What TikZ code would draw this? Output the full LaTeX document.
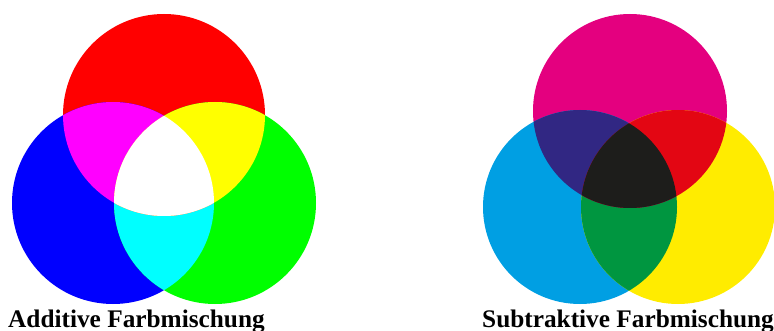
\documentclass[tikz,border=0pt]{standalone}
\usepackage{fontspec}
\setmainfont{Liberation Serif}
\definecolor{aR}{RGB}{255,0,0}
\definecolor{aG}{RGB}{0,255,0}
\definecolor{aB}{RGB}{0,0,255}
\definecolor{aC}{RGB}{0,255,255}
\definecolor{aM}{RGB}{255,0,255}
\definecolor{aY}{RGB}{255,255,0}
\definecolor{sM}{RGB}{228,0,127}
\definecolor{sC}{RGB}{0,159,227}
\definecolor{sY}{RGB}{255,236,0}
\definecolor{sMC}{RGB}{49,39,131}
\definecolor{sMY}{RGB}{227,6,19}
\definecolor{sCY}{RGB}{0,150,64}
\definecolor{sK}{RGB}{29,29,27}
\tikzset{lbl/.style={font=\bfseries\fontsize{25.3}{25}\selectfont, inner sep=0pt, anchor=base west}}
\begin{document}
\begin{tikzpicture}[x=1pt,y=-1pt]
\useasboundingbox (0,0) rectangle (774,331);
% additive
\def\ra{101}
\coordinate (R) at (164,115);
\coordinate (B) at (113,203);
\coordinate (G) at (215,203);
\fill[aR] (R) circle (\ra);
\fill[aB] (B) circle (\ra);
\fill[aG] (G) circle (\ra);
\begin{scope}
  \clip (B) circle (\ra);
  \fill[aC] (G) circle (\ra);
\end{scope}
\begin{scope}
  \clip (R) circle (\ra);
  \fill[aM] (B) circle (\ra);
  \fill[aY] (G) circle (\ra);
  \clip (B) circle (\ra);
  \fill[white] (G) circle (\ra);
\end{scope}
% subtractive
\def\rs{97}
\coordinate (M) at (630,111);
\coordinate (C) at (580,207);
\coordinate (Y) at (678,207);
\fill[sM] (M) circle (\rs);
\fill[sC] (C) circle (\rs);
\fill[sY] (Y) circle (\rs);
\begin{scope}
  \clip (C) circle (\rs);
  \fill[sCY] (Y) circle (\rs);
\end{scope}
\begin{scope}
  \clip (M) circle (\rs);
  \fill[sMC] (C) circle (\rs);
  \fill[sMY] (Y) circle (\rs);
  \clip (C) circle (\rs);
  \fill[sK] (Y) circle (\rs);
\end{scope}
\node[lbl] (addlabel) at (8,327) {Additive Farbmischung};
\node[lbl] (sublabel) at (482,327) {Subtraktive Farbmischung};
\end{tikzpicture}
\end{document}
